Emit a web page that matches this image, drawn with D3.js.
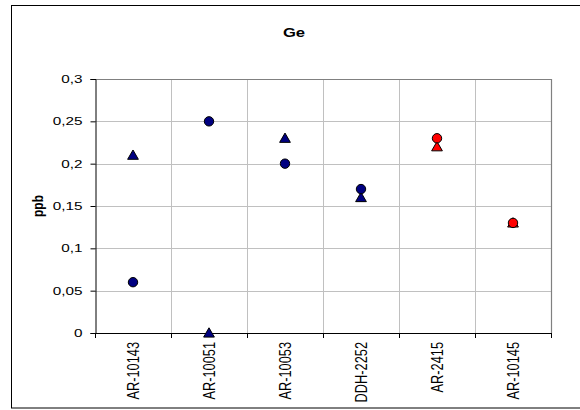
<!DOCTYPE html>
<html>
<head>
<meta charset="utf-8">
<script src="https://cdn.jsdelivr.net/npm/d3@7"></script>
<style>
  html, body { margin: 0; padding: 0; background: #fff; }
  svg { display: block; font-family: Arial, "Liberation Sans", sans-serif; }
</style>
</head>
<body>
<svg id="chart" width="580" height="410"></svg>
<script>
// Samples along the x axis
const samples = ["AR-10143", "AR-10051", "AR-10053", "DDH-2252", "AR-2415", "AR-10145"];
// Ge content (ppb), two measurements per sample
const circleValues   = [0.06, 0.25, 0.20, 0.17, 0.23, 0.13];
const triangleValues = [0.21, 0.00, 0.23, 0.16, 0.22, 0.13];
// Sample group (decides marker colour)
const groups = ["A", "A", "A", "A", "B", "B"];
const groupColors = { A: "#000080", B: "#ff0000" };
const yTicks = [0, 0.05, 0.1, 0.15, 0.2, 0.25, 0.3];

const svg = d3.select("#chart");
const plot = { left: 95, right: 551, top: 79, bottom: 333 };
const sx = 1.33; // horizontal widening of glyphs

// outer frame
svg.append("rect")
  .attr("x", 11.5).attr("y", 5.5)
  .attr("width", 600).attr("height", 402.5)
  .attr("fill", "none").attr("stroke", "#000").attr("stroke-width", 1);

const x = d3.scaleBand().domain(samples).range([plot.left, plot.right]);
const y = d3.scaleLinear().domain([0, 0.3]).range([plot.bottom, plot.top]);

// horizontal gridlines
svg.append("g").selectAll("line").data(yTicks.filter(d => d > 0)).join("line")
  .attr("x1", plot.left).attr("x2", plot.right)
  .attr("y1", d => Math.round(y(d)) + 0.5).attr("y2", d => Math.round(y(d)) + 0.5)
  .attr("stroke", "#c0c0c0").attr("stroke-width", 1);

// vertical gridlines at category boundaries
const bounds = samples.map(s => x(s)).concat([plot.right]);
svg.append("g").selectAll("line").data(bounds.slice(1, -1)).join("line")
  .attr("x1", d => Math.round(d) + 0.5).attr("x2", d => Math.round(d) + 0.5)
  .attr("y1", plot.top).attr("y2", plot.bottom)
  .attr("stroke", "#c0c0c0").attr("stroke-width", 1);

// plot frame top/right
svg.append("path")
  .attr("d", `M${plot.left},${plot.top + 0.5}H${plot.right + 0.5}V${plot.bottom}`)
  .attr("fill", "none").attr("stroke", "#808080").attr("stroke-width", 1.2);

// y axis (line + ticks from d3, labels drawn separately)
const yAxis = d3.axisLeft(y).tickValues(yTicks).tickSize(5).tickFormat("");
const gy = svg.append("g").attr("transform", `translate(${plot.left + 0.5},0)`).call(yAxis);
gy.select(".domain").attr("stroke", "#000");
gy.selectAll(".tick line").attr("stroke", "#000");

const fmt = d => d3.format("~g")(d).replace(".", ",");
svg.append("g").selectAll("text").data(yTicks).join("text")
  .attr("transform", d => `translate(82.5,${y(d)}) scale(${sx},1)`)
  .attr("dy", "0.36em")
  .attr("text-anchor", "end")
  .attr("font-size", 11.5)
  .text(fmt);

// x axis: ticks at category boundaries
svg.append("line")
  .attr("x1", plot.left).attr("x2", plot.right + 1)
  .attr("y1", plot.bottom + 0.5).attr("y2", plot.bottom + 0.5)
  .attr("stroke", "#000");
svg.append("g").selectAll("line").data(bounds).join("line")
  .attr("x1", d => Math.round(d) + 0.5).attr("x2", d => Math.round(d) + 0.5)
  .attr("y1", plot.bottom).attr("y2", plot.bottom + 5)
  .attr("stroke", "#000");

// x labels, rotated
svg.append("g").selectAll("text").data(samples).join("text")
  .attr("transform", d => `translate(${x(d) + x.bandwidth() / 2 + 6},${plot.bottom + 9}) scale(${sx},1) rotate(-90)`)
  .attr("text-anchor", "end")
  .attr("font-size", 12.8)
  .text(d => d);

// title
svg.append("text")
  .attr("transform", `translate(294,37) scale(${sx},1)`)
  .attr("text-anchor", "middle")
  .attr("font-size", 12.5).attr("font-weight", "bold")
  .text("Ge");

// y axis title
svg.append("text")
  .attr("transform", `translate(43,${(plot.top + plot.bottom) / 2}) scale(1.2,1) rotate(-90)`)
  .attr("text-anchor", "middle")
  .attr("font-size", 12).attr("font-weight", "bold")
  .text("ppb");

const cx = i => x(samples[i]) + x.bandwidth() / 2;

// triangles
const tri = d3.symbol().type(d3.symbolTriangle).size(50);
svg.append("g").selectAll("path").data(triangleValues).join("path")
  .attr("d", tri)
  .attr("transform", (d, i) => `translate(${cx(i)},${y(d) + 1})`)
  .attr("fill", (d, i) => groupColors[groups[i]])
  .attr("stroke", "#000").attr("stroke-width", 1);

// circles
svg.append("g").selectAll("circle").data(circleValues).join("circle")
  .attr("cx", (d, i) => cx(i))
  .attr("cy", d => y(d))
  .attr("r", 4.7)
  .attr("fill", (d, i) => groupColors[groups[i]])
  .attr("stroke", "#000").attr("stroke-width", 1);
</script>
</body>
</html>
